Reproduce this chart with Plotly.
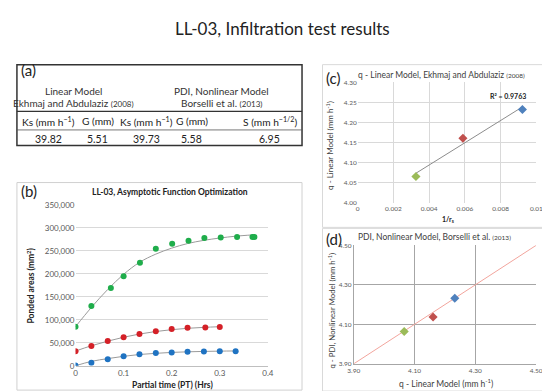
import numpy as np
import plotly.graph_objects as go

W, H = 550, 391

# ---------------- data ----------------
# (a) table
model_headers = ["Linear Model", "PDI, Nonlinear Model"]
model_refs = ["Ekhmaj and Abdulaziz", "Borselli et al."]
model_years = ["(2008)", "(2013)"]
col_headers = ["Ks (mm h<sup>−1</sup>)", "G (mm)", "Ks (mm h<sup>−1</sup>)", "G (mm)", "S (mm h<sup>−1/2</sup>)"]
col_values = ["39.82", "5.51", "39.73", "5.58", "6.95"]

# (b) ponded areas vs partial time
t_green = [0, 0.033, 0.0735, 0.1, 0.134, 0.167, 0.201, 0.235, 0.268, 0.302, 0.336, 0.368, 0.372]
area_green = [85000, 130000, 169000, 195000, 224000, 254500, 265800, 272200, 277900, 279300, 280000, 280000, 280500]
t_red = [0, 0.033, 0.067, 0.1, 0.133, 0.167, 0.2, 0.233, 0.27, 0.3]
area_red = [31500, 43000, 53700, 62200, 69300, 75000, 80000, 82700, 83400, 84200]
t_blue = [0, 0.033, 0.067, 0.1, 0.133, 0.167, 0.2, 0.233, 0.267, 0.3, 0.333]
area_blue = [500, 6400, 14100, 20500, 24800, 27600, 29000, 30400, 31100, 31800, 31800]

fit_t_green = [0, 0.033, 0.067, 0.1, 0.133, 0.167, 0.2, 0.233, 0.267, 0.3, 0.333, 0.37]
fit_green = [85000, 127000, 166000, 199000, 225000, 243000, 256000, 266000, 273000, 278000, 282000, 285000]
fit_t_red = [0, 0.033, 0.067, 0.1, 0.133, 0.167, 0.2, 0.233, 0.267, 0.3]
fit_red = [32000, 43500, 53500, 62000, 69000, 74500, 78500, 81500, 83500, 85000]
fit_t_blue = [0, 0.033, 0.067, 0.1, 0.133, 0.167, 0.2, 0.233, 0.267, 0.3, 0.333]
fit_blue = [0, 9500, 15500, 20500, 24500, 27000, 29000, 30300, 31200, 31800, 32200]

# (c) and (d)
inv_rs = [0.00326, 0.00589, 0.00922]
q_linear = [4.066, 4.161, 4.2325]
q_pdi = [4.064, 4.137, 4.232]
point_colors = ["#9bbb59", "#c0504d", "#4f81bd"]
r2_label = "R² = 0.9763"
one_to_one = [3.90, 4.50]
c_xtick_vals = [0, 0.002, 0.004, 0.006, 0.008, 0.01]
c_xtick_text = ["0", "0.002", "0.004", "0.006", "0.008", "0.01"]

# ---------------- helpers ----------------
def fx(x):
    return x / W

def fy(y):
    return 1 - y / H

FONT = "Lato"
fig = go.Figure()
ann = []
shapes = []

def text(x, y, s, size, color="#222", xanchor="center", bold=False, angle=0, family=FONT):
    if bold:
        s = "<b>" + s + "</b>"
    ann.append(dict(x=fx(x), y=fy(y), xref="paper", yref="paper", text=s, showarrow=False,
                    xanchor=xanchor, yanchor="middle", textangle=angle,
                    font=dict(size=size, color=color, family=family)))

def box(x0, y0, x1, y1, color, width=1):
    shapes.append(dict(type="rect", xref="paper", yref="paper", x0=fx(x0), x1=fx(x1),
                       y0=fy(y1), y1=fy(y0), line=dict(color=color, width=width)))

def hline(x0, x1, y, color, width=1):
    shapes.append(dict(type="line", xref="paper", yref="paper", x0=fx(x0), x1=fx(x1),
                       y0=fy(y), y1=fy(y), line=dict(color=color, width=width)))

# ---------------- title ----------------
text(275, 16, "LL-03, Infiltration test results", 17, "#222")

# ---------------- (a) table ----------------
box(3, 53, 295, 136, "#333", 1.5)
hline(3, 295, 101, "#333", 1.2)
hline(3, 295, 120, "#555", 0.8)
text(5, 59, "(a)", 15, "#222", xanchor="left")
hdr_x = [61, 213]
for i in range(2):
    text(hdr_x[i], 80, model_headers[i], 10, "#333")
    text(hdr_x[i], 92, model_refs[i] + " <span style='font-size:8px'>" + model_years[i] + "</span>", 10, "#333")
col_x = [35, 86, 136, 182, 262]
for i in range(5):
    text(col_x[i], 111, col_headers[i], 10.2, "#222")
    text(col_x[i], 129, col_values[i], 10.5, "#222")

# ---------------- (b) ----------------
box(3, 174, 295, 387, "#d0d0d0", 1)
text(5, 183, "(b)", 15, "#222", xanchor="left")
text(160, 184, "LL-03, Asymptotic Function Optimization", 8.5, "#222", bold=True)
text(162, 382, "Partial time (PT) (Hrs)", 8.5, "#222", bold=True)
text(17, 280, "Ponded areas (mm<sup>2</sup>)", 8.5, "#222", bold=True, angle=-90)

for ft, fv in [(fit_t_green, fit_green), (fit_t_red, fit_red), (fit_t_blue, fit_blue)]:
    fig.add_trace(go.Scatter(x=ft, y=fv, mode="lines", line=dict(color="#9a9a9a", width=1, shape="spline"),
                             xaxis="x", yaxis="y", showlegend=False, hoverinfo="skip"))
for tt, aa, c in [(t_green, area_green, "#1fad4b"), (t_red, area_red, "#d42027"), (t_blue, area_blue, "#1f73c2")]:
    fig.add_trace(go.Scatter(x=tt, y=aa, mode="markers", marker=dict(color=c, size=6),
                             xaxis="x", yaxis="y", showlegend=False))

# ---------------- (c) ----------------
box(316, 53, 547, 220, "#d9d9d9", 1)
text(318, 67, "(c)", 15, "#222", xanchor="left")
text(350, 64, "q - Linear Model, Ekhmaj and Abdulaziz <span style='font-size:6.5px'>(2008)</span>", 8.5, "#404040", xanchor="left")
text(323, 136, "q - Linear Model (mm h<sup>-1</sup>)", 8, "#404040", angle=-90)
text(444, 212, "1/r<sub>s</sub>", 7, "#222", bold=True)

coef = np.polyfit(inv_rs, q_linear, 1)
tx = [min(inv_rs), max(inv_rs)]
fig.add_trace(go.Scatter(x=tx, y=list(np.polyval(coef, tx)), mode="lines", line=dict(color="#8c8c8c", width=1),
                         xaxis="x2", yaxis="y2", showlegend=False, hoverinfo="skip"))
fig.add_trace(go.Scatter(x=inv_rs, y=q_linear, mode="markers",
                         marker=dict(color=point_colors, size=7, symbol="diamond"),
                         xaxis="x2", yaxis="y2", showlegend=False))
ann.append(dict(x=0.0084, y=4.266, xref="x2", yref="y2", text="<b>" + r2_label + "</b>", showarrow=False,
                font=dict(size=7, color="#222", family=FONT)))

# ---------------- (d) ----------------
box(316, 221, 547, 388, "#d9d9d9", 1)
text(318, 232, "(d)", 15, "#222", xanchor="left")
text(350, 230, "PDI, Nonlinear Model, Borselli et al. <span style='font-size:6.5px'>(2013)</span>", 8.5, "#404040", xanchor="left")
text(326, 305, "q - PDI, Nonlinear Model (mm h<sup>-1</sup>)", 7.8, "#404040", angle=-90)
text(442, 380, "q - Linear Model (mm h<sup>-1</sup>)", 8.5, "#404040")

fig.add_trace(go.Scatter(x=one_to_one, y=one_to_one, mode="lines", line=dict(color="#f2a59d", width=1),
                         xaxis="x3", yaxis="y3", showlegend=False, hoverinfo="skip"))
fig.add_trace(go.Scatter(x=q_linear, y=q_pdi, mode="markers",
                         marker=dict(color=point_colors, size=7, symbol="diamond"),
                         xaxis="x3", yaxis="y3", showlegend=False))

tickfont_b = dict(size=8, color="#595959", family=FONT)
tickfont_s = dict(size=6.5, color="#595959", family=FONT)

fig.update_layout(
    width=W, height=H, autosize=False,
    margin=dict(l=0, r=0, t=0, b=0),
    paper_bgcolor="white", plot_bgcolor="white",
    showlegend=False,
    annotations=ann, shapes=shapes,
    xaxis=dict(domain=[fx(63), fx(260)], range=[0, 0.4], dtick=0.1, anchor="y",
               showgrid=False, zeroline=False, showline=True, linecolor="#bfbfbf",
               ticks="", tickfont=tickfont_b),
    yaxis=dict(domain=[fy(362), fy(197)], range=[0, 350000], dtick=50000, tickformat=",", anchor="x",
               showgrid=True, gridcolor="#d9d9d9", zeroline=False, showline=False, tickfont=tickfont_b),
    xaxis2=dict(domain=[fx(352), fx(535)], range=[0, 0.01], tickvals=c_xtick_vals, ticktext=c_xtick_text,
                anchor="y2", showgrid=True, gridcolor="#d9d9d9", zeroline=False, showline=False,
                tickfont=tickfont_s),
    yaxis2=dict(domain=[fy(195), fy(70.7)], range=[4.0, 4.301], tick0=4.0, dtick=0.05, tickformat=".2f", anchor="x2",
                showgrid=True, gridcolor="#d9d9d9", zeroline=False, showline=False, tickfont=tickfont_s),
    xaxis3=dict(domain=[fx(348), fx(535)], range=[3.9, 4.501], tick0=3.9, dtick=0.2, tickformat=".2f", anchor="y3",
                showgrid=True, gridcolor="#a6a6a6", zeroline=False, showline=True, linecolor="#a6a6a6",
                tickfont=tickfont_s),
    yaxis3=dict(domain=[fy(360), fy(238.3)], range=[3.9, 4.501], tick0=3.9, dtick=0.2, tickformat=".2f", anchor="x3",
                showgrid=True, gridcolor="#a6a6a6", zeroline=False, showline=True, linecolor="#a6a6a6",
                tickfont=tickfont_s),
)

fig.write_html("out.html")
